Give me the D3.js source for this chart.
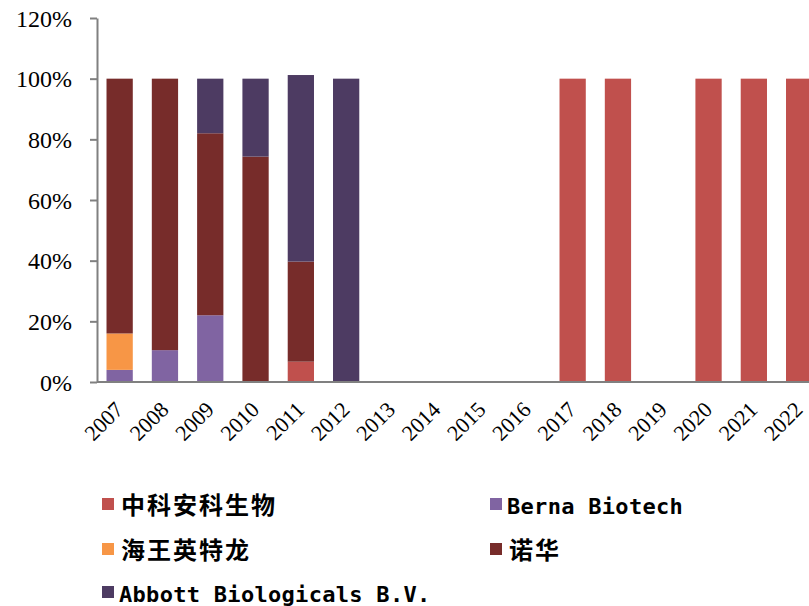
<!DOCTYPE html>
<html><head><meta charset="utf-8">
<script src="https://cdn.jsdelivr.net/npm/d3@7/dist/d3.min.js"></script>
<style>body{margin:0;background:#fff;}svg{display:block;}</style>
</head><body>
<svg id="c" width="809" height="606"></svg>
<script>
const years = ["2007","2008","2009","2010","2011","2012","2013","2014","2015","2016","2017","2018","2019","2020","2021","2022"];
const seriesNames = ["中科安科生物","Berna Biotech","海王英特龙","诺华","Abbott Biologicals B.V."];
const seriesColors = ["#C0504D","#8064A2","#F79646","#772C2A","#4D3B62"];
// stack order bottom->top: 中科安科生物, Berna, 海王, 诺华, Abbott
const zhongke = [0,0,0,0,6.7,0,0,0,0,0,100,100,0,100,100,100];
const berna   = [4,10.5,22,0,0,0,0,0,0,0,0,0,0,0,0,0];
const haiwang = [12,0,0,0,0,0,0,0,0,0,0,0,0,0,0,0];
const nuohua  = [84,89.5,60,74.3,33,0,0,0,0,0,0,0,0,0,0,0];
const abbott  = [0,0,18,25.7,61.5,100,0,0,0,0,0,0,0,0,0,0];
const yTicks = [0,20,40,60,80,100,120];

const seriesValues = [zhongke, berna, haiwang, nuohua, abbott];
const table = years.map((y,i)=>{const o={year:y}; seriesNames.forEach((n,k)=>o[n]=seriesValues[k][i]); return o;});
const stack = d3.stack().keys(seriesNames)(table);

const svg = d3.select("#c");
const mLeft=97, mTop=18, mBottom=382;
const serif = "'Liberation Serif', 'Times New Roman', Times, serif";
const x = d3.scaleBand().domain(years).range([mLeft, mLeft+16*45.3]).paddingInner(0.42).paddingOuter(0.21);
const y = d3.scaleLinear().domain([0,120]).range([mBottom, mTop]);

const g = svg.append("g");
stack.forEach((s,k)=>{
  g.selectAll(null).data(s).join("rect")
    .attr("x", d=>x(d.data.year))
    .attr("width", x.bandwidth())
    .attr("y", d=>y(d[1]))
    .attr("height", d=>Math.max(0, y(d[0])-y(d[1])))
    .attr("fill", seriesColors[k]);
});

// y axis
const ya = svg.append("g").attr("transform",`translate(${mLeft},0)`)
  .call(d3.axisLeft(y).tickValues(yTicks).tickFormat(d=>d+"%").tickSize(7).tickSizeOuter(0));
ya.attr("font-family", null).attr("font-size", null);
ya.select(".domain").attr("stroke","#808080").attr("stroke-width",2);
ya.selectAll(".tick line").attr("stroke","#808080").attr("stroke-width",2);
ya.selectAll(".tick text").attr("x",-25).attr("dy","0.34em")
  .style("font-family",serif).style("font-size","24px").attr("fill","#000");

// x axis
const xa = svg.append("g").attr("transform",`translate(0,${mBottom})`)
  .call(d3.axisBottom(x).tickSize(0).tickSizeOuter(0));
xa.attr("font-family", null).attr("font-size", null);
xa.select(".domain").attr("stroke","#808080").attr("stroke-width",2).attr("d",`M${mLeft},0H809`);
xa.selectAll(".tick text")
  .style("font-family",serif).style("font-size","22px").attr("fill","#000")
  .attr("text-anchor","end").attr("dy",0).attr("y",0)
  .attr("transform","translate(5,29) rotate(-45)");

// legend
const legendPos = [[102,504],[490,504],[102,549],[490,549],[102,592]];
const leg = svg.append("g");
seriesNames.forEach((n,k)=>{
  const [lx,ly] = legendPos[k];
  leg.append("rect").attr("x",lx).attr("y",ly-6).attr("width",12).attr("height",12).attr("fill",seriesColors[k]);
  const cjk = /[\u4e00-\u9fff]/.test(n);
  leg.append("text").attr("x", lx + (cjk?19:17)).attr("y", ly+10)
    .style("font-family", cjk ? "'Noto Sans CJK SC', sans-serif" : "'DejaVu Sans Mono', monospace")
    .style("font-weight","bold").style("font-size", cjk ? "24px" : "22px")
    .style("letter-spacing", cjk ? "2px" : "0.3px")
    .attr("fill","#000").text(n);
});
</script>
</body></html>
